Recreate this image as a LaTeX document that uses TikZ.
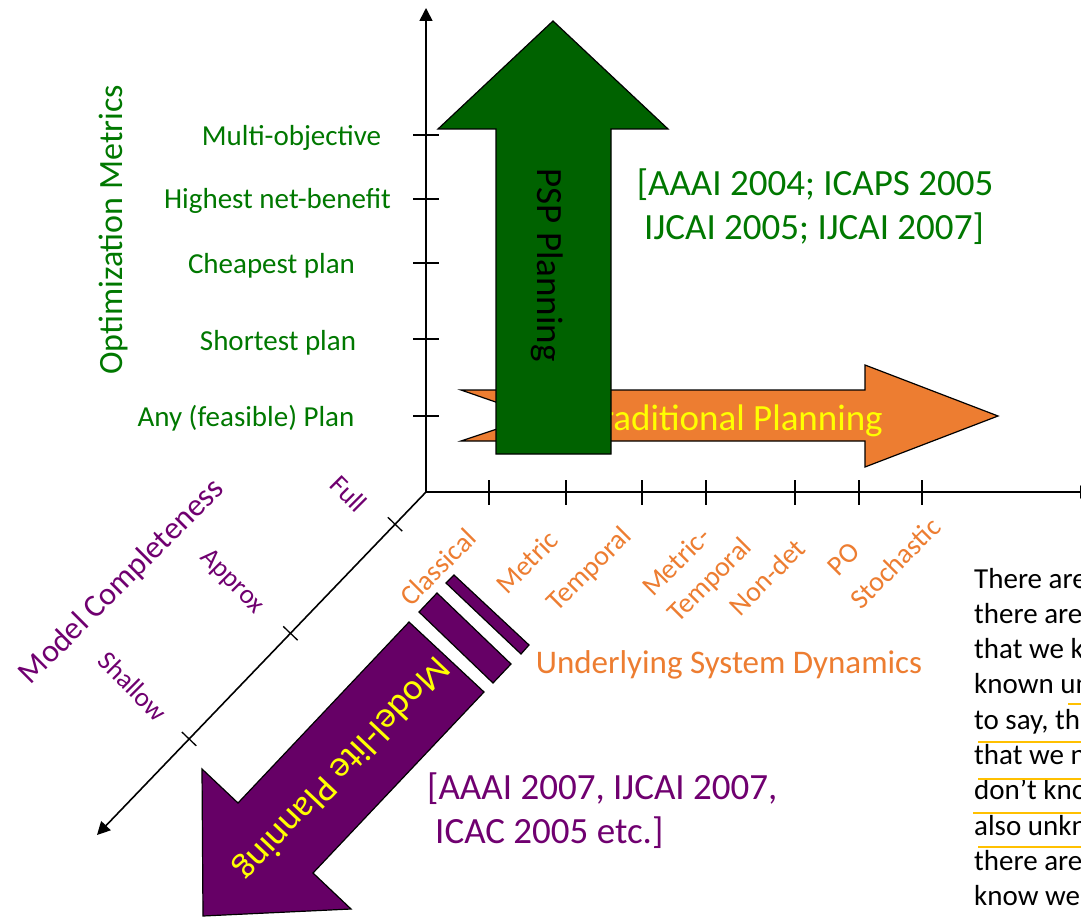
\documentclass[tikz,border=0pt]{standalone}
\usepackage{fontspec}
\setmainfont{Carlito}
\usetikzlibrary{arrows.meta,calc}

\definecolor{pspgreen}{RGB}{0,98,0}
\definecolor{labgreen}{RGB}{0,120,0}
\definecolor{dynorange}{RGB}{237,125,49}
\definecolor{mlpurple}{RGB}{102,0,102}
\definecolor{labpurple}{RGB}{112,0,112}
\definecolor{hiyellow}{RGB}{255,255,0}
\definecolor{markgold}{RGB}{255,192,0}

\tikzset{
  axisline/.style={line width=1.6pt, -{Triangle[width=13pt,length=13pt]}},
  axtick/.style={line width=1.3pt},
  ylab/.style={text=labgreen, font=\fontsize{29}{35}\selectfont, inner sep=0pt, anchor=base},
  xlab/.style={text=dynorange, font=\fontsize{28}{36}\selectfont, inner sep=0pt, rotate=45, align=left},
  zlab/.style={text=labpurple, font=\fontsize{27}{33}\selectfont, inner sep=0pt, rotate=-45},
  blockarrow/.style={draw=black, line width=1.2pt, line join=miter},
  bigtext/.style={font=\fontsize{37}{45}\selectfont, inner sep=0pt},
  quoteline/.style={font=\fontsize{29}{35}\selectfont, inner sep=0pt, anchor=base west},
  markline/.style={draw=markgold, line width=1.1pt},
}

\begin{document}
\begin{tikzpicture}[x=1pt, y=-1pt]
\useasboundingbox (0,0) rectangle (1081,917);
\fill[white] (0,0) rectangle (1081,917);
\clip (0,0) rectangle (1081,917);

% ---- axes ----
\coordinate (O) at (426,492);
\coordinate (Ytop) at (426,8);
\coordinate (Xend) at (1093,492);
\coordinate (Zend) at (97,835);

\draw[axisline] (O) -- (Ytop);
\draw[axisline] (O) -- (Xend);
\draw[axisline] (O) -- (Zend);

\foreach \y in {135,199,263,339,416}
  \draw[axtick] (413,\y) -- (439,\y);
\foreach \x in {489,566,642,706,795,859,922}
  \draw[axtick] (\x,480) -- (\x,505);
\path (O) -- (Zend) coordinate[pos=0.094] (z1) coordinate[pos=0.412] (z2) coordinate[pos=0.72] (z3);
\foreach \c in {z1,z2,z3}
  \draw[axtick] ($(\c)!10pt!90:(O)$) -- ($(\c)!10pt!-90:(O)$);

% ---- optimization metrics (vertical axis) ----
\node[ylab] (m1) at (291.5,146) {Multi-objective};
\node[ylab] (m2) at (277.5,209) {Highest net-benefit};
\node[ylab] (m3) at (271.5,273) {Cheapest plan};
\node[ylab] (m4) at (278,350) {Shortest plan};
\node[ylab] (m5) at (246,426) {Any (feasible) Plan};
\node[text=labgreen, font=\fontsize{34}{40}\selectfont, rotate=90, inner sep=0pt] (ym) at (113,230) {Optimization Metrics};

% ---- system dynamics (horizontal axis) ----
\node[xlab] (d1) at (438,567) {Classical};
\node[xlab] (d2) at (527,562) {Metric};
\node[xlab] (d3) at (590,570) {Temporal};
\node[xlab] (d4) at (698,568) {Metric-\\Temporal};
\node[xlab] (d5) at (767,577) {Non-det};
\node[xlab] (d6) at (844,559) {PO};
\node[xlab] (d7) at (895,563) {Stochastic};
\node[text=dynorange, font=\fontsize{33}{40}\selectfont, inner sep=0pt, anchor=base] (dyn) at (729,673) {Underlying System Dynamics};

% ---- model completeness (diagonal axis) ----
\node[zlab] (c1) at (349,494) {Full};
\node[zlab] (c2) at (232,582) {Approx};
\node[zlab] (c3) at (133,686) {Shallow};
\node[text=labpurple, font=\fontsize{32}{38}\selectfont, rotate=45, inner sep=0pt] (zm) at (122,582) {Model Completeness};

% ---- traditional planning arrow ----
\filldraw[blockarrow, fill=dynorange] (461,390) -- (865,390) -- (865,365) -- (998,416)
  -- (865,467) -- (865,441) -- (461,441) -- (536,416) -- cycle;
\node[bigtext, text=hiyellow, anchor=base east] (trad) at (883,430) {Traditional Planning};

% ---- PSP planning arrow ----
\filldraw[blockarrow, fill=pspgreen] (496,454) -- (496,129) -- (438,129) -- (553,21)
  -- (668,129) -- (611,129) -- (611,454) -- cycle;
\node[bigtext, text=black, rotate=-90, anchor=base] (psp) at (537,265) {PSP Planning};
\node[bigtext, text=labgreen, anchor=base] (cite1a) at (815,196) {[AAAI 2004; ICAPS 2005};
\node[bigtext, text=labgreen, anchor=base] (cite1b) at (814,240) {IJCAI 2005; IJCAI 2007]};

% ---- model-lite planning arrow ----
\filldraw[blockarrow, fill=mlpurple] (419,612) -- (437,593) -- (511,664) -- (493,683) -- cycle;
\filldraw[blockarrow, fill=mlpurple] (446,583) -- (454,575) -- (529,645) -- (521,654) -- cycle;
\filldraw[blockarrow, fill=mlpurple] (409,622) -- (484,692) -- (313,873) -- (351,909)
  -- (203,916) -- (202,769) -- (238,803) -- cycle;
\node[bigtext, text=hiyellow, rotate=-133.4] (ml) at (341,768) {Model-lite Planning};
\node[bigtext, text=labpurple, anchor=base west] (cite2a) at (427,799) {[AAAI 2007, IJCAI 2007,};
\node[bigtext, text=labpurple, anchor=base west] (cite2b) at (435,843) {ICAC 2005 etc.]};

% ---- quotation at the right edge ----
\node[quoteline] (q1) at (974,588) {There are};
\node[quoteline] (q2) at (974,623.3) {there are};
\node[quoteline] (q3) at (974,658.6) {that we k};
\node[quoteline] (q4) at (974,693.9) {known un};
\node[quoteline] (q5) at (974,729.2) {to say, th};
\node[quoteline] (q6) at (974,764.5) {that we n};
\node[quoteline] (q7) at (974,799.8) {don’t kno};
\node[quoteline] (q8) at (974,835.1) {also unkn};
\node[quoteline] (q9) at (974,870.4) {there are};
\node[quoteline] (q10) at (974,905.7) {know we};
\draw[markline] (1068,704) -- (1081,704);
\draw[markline] (978,742) -- (1081,742);
\draw[markline] (978,779) -- (1081,779);
\draw[markline] (973,813) -- (1081,813);
\draw[markline] (978,847) -- (1081,847);
\end{tikzpicture}
\end{document}
